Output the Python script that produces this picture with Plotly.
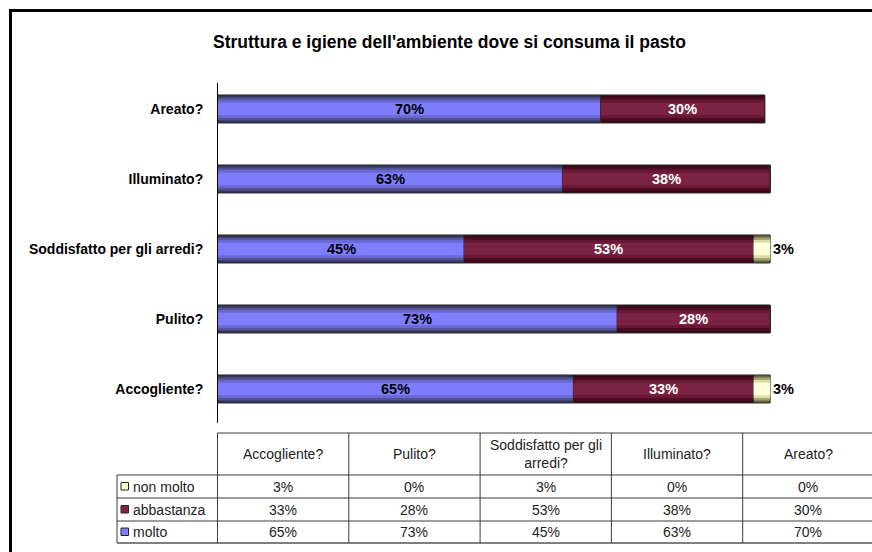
import plotly.graph_objects as go

# ---- data -------------------------------------------------------------
categories = ["Accogliente?", "Pulito?", "Soddisfatto per gli arredi?", "Illuminato?", "Areato?"]
header_labels = ["Accogliente?", "Pulito?", "Soddisfatto per gli<br>arredi?", "Illuminato?", "Areato?"]
molto = [65, 73, 45, 63, 70]
abbastanza = [33, 28, 53, 38, 30]
non_molto = [3, 0, 3, 0, 0]
title_text = "Struttura e igiene dell'ambiente dove si consuma il pasto"

# ---- geometry (pixels) -------------------------------------------------
W, H = 872, 552
PL, PR, PT, PB = 218, 872, 83, 423          # plot area
X_MAX = 120 * (PR - PL) / (874 - PL)        # axis runs to 120 %


def fx(p):
    return (p - PL) / (PR - PL)


def fy(p):
    return (PB - p) / (PB - PT)


# ---- bar styling: layered bands give the cylinder-like shading ----------
layer_widths = [0.4, 0.33, 0.26, 0.18]
shades = {
    "molto": ["#34345a", "#525294", "#6868d0", "#7e7efc"],
    "abbastanza": ["#380616", "#4e0c24", "#661834", "#7c2242"],
    "non molto": ["#666640", "#a0a070", "#dcdca4", "#ffffd8"],
}
key_colors = {"non molto": "#ffffcc", "abbastanza": "#802444", "molto": "#8080ff"}

base_molto = [0] * len(categories)
base_abb = list(molto)
base_nm = [m + a for m, a in zip(molto, abbastanza)]

stack = [("molto", molto, base_molto), ("abbastanza", abbastanza, base_abb),
         ("non molto", non_molto, base_nm)]

fig = go.Figure()
for name, vals, base in stack:
    for i, (w, col) in enumerate(zip(layer_widths, shades[name])):
        fig.add_trace(go.Bar(
            y=categories, x=vals, base=base, orientation="h", width=w,
            marker=dict(color=col,
                        line=dict(color="#2a2a2a", width=1 if i == 0 else 0)),
            name=name, showlegend=False, hoverinfo="skip",
        ))

annotations = []
label_font = dict(family="Liberation Sans, Arial", size=14.5, weight="bold")
for cat, v, b in zip(categories, molto, base_molto):
    annotations.append(dict(x=b + v / 2, y=cat, xref="x", yref="y", text=f"{v}%",
                            showarrow=False, font=dict(label_font, color="#000000")))
for cat, v, b in zip(categories, abbastanza, base_abb):
    annotations.append(dict(x=b + v / 2, y=cat, xref="x", yref="y", text=f"{v}%",
                            showarrow=False, font=dict(label_font, color="#ffffff")))
for cat, v, b in zip(categories, non_molto, base_nm):
    if v > 0:
        annotations.append(dict(x=b + v, y=cat, xref="x", yref="y", text=f"{v}%",
                                xanchor="left", xshift=1, showarrow=False,
                                font=dict(label_font, color="#000000")))

# ---- data table under the chart -----------------------------------------
col_edges = [217.5 + i * 131.3 for i in range(6)]
row_edges = [433, 475, 498, 521, 543]
legend_left = 117
line_col = "#3a3a3a"
table_font = dict(family="Liberation Sans, Arial", size=14, color="#222222")

shapes = []


def hline(y, x0, x1, width=1, color=line_col):
    shapes.append(dict(type="line", xref="paper", yref="paper",
                       x0=fx(x0), x1=fx(x1), y0=fy(y), y1=fy(y),
                       line=dict(color=color, width=width)))


def vline(x, y0, y1, width=1, color=line_col):
    shapes.append(dict(type="line", xref="paper", yref="paper",
                       x0=fx(x), x1=fx(x), y0=fy(y0), y1=fy(y1),
                       line=dict(color=color, width=width)))


def text_at(px, py, txt, anchor="center", font=table_font):
    annotations.append(dict(x=fx(px), y=fy(py), xref="paper", yref="paper",
                            text=txt, showarrow=False, xanchor=anchor,
                            yanchor="middle", align="center", font=font))


hline(row_edges[0], col_edges[0], 880)
for y in row_edges[1:4]:
    hline(y, legend_left, 880)
hline(row_edges[4], legend_left, 880, width=1.5, color="#555555")
vline(legend_left, row_edges[1], row_edges[4])
for x in col_edges[:5]:
    vline(x, row_edges[0], row_edges[4])

for j, lab in enumerate(header_labels):
    cx = (col_edges[j] + col_edges[j + 1]) / 2
    text_at(cx, (row_edges[0] + row_edges[1]) / 2, lab)

table_rows = [("non molto", non_molto), ("abbastanza", abbastanza), ("molto", molto)]
for r, (name, vals) in enumerate(table_rows):
    cy = (row_edges[r + 1] + row_edges[r + 2]) / 2
    shapes.append(dict(type="rect", xref="paper", yref="paper",
                       x0=fx(121), x1=fx(128.5), y0=fy(cy + 3.5), y1=fy(cy - 4),
                       fillcolor=key_colors[name], line=dict(color="#222222", width=1)))
    text_at(131, cy, name, anchor="left")
    for j, v in enumerate(vals):
        cx = (col_edges[j] + col_edges[j + 1]) / 2
        text_at(cx, cy, f"{v}%")

# chart title
text_at(449.5, 42, f"<b>{title_text}</b>",
        font=dict(family="Liberation Sans, Arial", size=17.5, color="#000000"))

# outer chart frame (top and left edges)
shapes.append(dict(type="path", xref="paper", yref="paper",
                   path=f"M {fx(10.5)} {fy(560)} L {fx(10.5)} {fy(10.5)} L {fx(880)} {fy(10.5)}",
                   line=dict(color="#000000", width=3)))

fig.update_layout(
    width=W, height=H,
    margin=dict(l=PL, r=W - PR, t=PT, b=H - PB, pad=0),
    paper_bgcolor="#ffffff", plot_bgcolor="#ffffff",
    barmode="overlay",
    showlegend=False,
    xaxis=dict(range=[0, X_MAX], showgrid=False, zeroline=False,
               showticklabels=False, showline=False, ticks=""),
    yaxis=dict(type="category", categoryorder="array", categoryarray=categories,
               range=[-0.486, 4.371], showgrid=False, zeroline=False,
               showline=True, linecolor="#000000", linewidth=1, ticks="",
               ticklabelstandoff=11,
               tickfont=dict(family="Liberation Sans, Arial", size=14,
                             color="#000000", weight="bold")),
    annotations=annotations,
    shapes=shapes,
)

fig.write_html("out.html")
